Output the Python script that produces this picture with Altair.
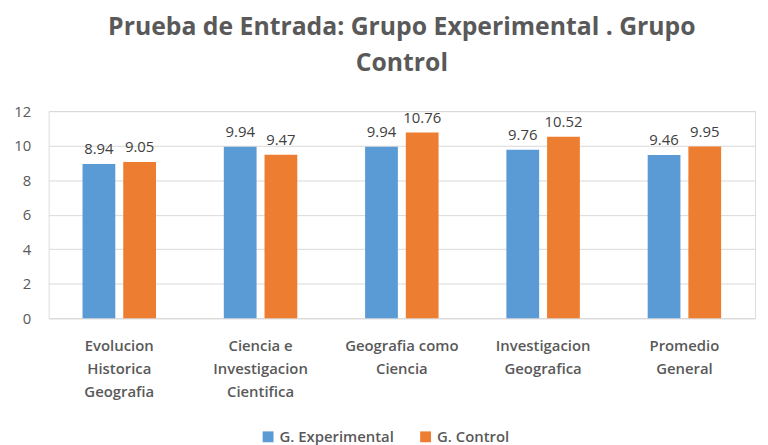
import altair as alt
import pandas as pd

categories = ["Evolucion|Historica|Geografia", "Ciencia e|Investigacion|Cientifica",
              "Geografia como|Ciencia", "Investigacion|Geografica", "Promedio|General"]
series = ["G. Experimental", "G. Control"]
experimental = [8.94, 9.94, 9.94, 9.76, 9.46]
control = [9.05, 9.47, 10.76, 10.52, 9.95]
y_ticks = [0, 2, 4, 6, 8, 10, 12]

rows = []
for c, e, k in zip(categories, experimental, control):
    rows.append({"cat": c, "grupo": series[0], "valor": e})
    rows.append({"cat": c, "grupo": series[1], "valor": k})
df = pd.DataFrame(rows)

FONT = "Open Sans"
x = alt.X("cat:N", sort=categories, title=None,
          scale=alt.Scale(paddingInner=0.48, paddingOuter=0.24),
          axis=alt.Axis(labelAngle=0, labelExpr="split(datum.label, '|')",
                        labelFontSize=15, labelColor="#595959", labelFont=FONT,
                        labelFontWeight=600, labelLineHeight=23, labelPadding=21,
                        ticks=False, domainColor="#d9d9d9", labelBaseline="top"))
y = alt.Y("valor:Q", title=None, scale=alt.Scale(domain=[0, 12], nice=False),
          axis=alt.Axis(values=y_ticks, tickCount=7, labelFontSize=15, labelColor="#595959",
                        labelFont=FONT, ticks=False, domain=False, labelPadding=18,
                        labelOverlap=False, gridColor="#d9d9d9"))
xo = alt.XOffset("grupo:N", sort=series,
                 scale=alt.Scale(paddingInner=0.195, paddingOuter=0))
color = alt.Color("grupo:N", sort=series,
                  scale=alt.Scale(domain=series, range=["#5B9BD5", "#ED7D31"]),
                  legend=alt.Legend(title=None, orient="none", direction="horizontal",
                                    legendX=214, legendY=321,
                                    symbolType="square", symbolSize=120,
                                    labelFontSize=15, labelFont=FONT, labelFontWeight=600,
                                    labelColor="#595959", columnPadding=24))

base = alt.Chart(df).encode(x=x, xOffset=xo, y=y)
bars = base.mark_bar().encode(color=color)
text = base.mark_text(dy=-15, fontSize=15, font=FONT, color="#404040").encode(
    text=alt.Text("valor:Q", format=".2f"))

chart = (bars + text).properties(
    width=713, height=209,
    title=alt.TitleParams(["Prueba de Entrada: Grupo Experimental . Grupo", "Control"],
                          fontSize=25, font=FONT, fontWeight="bold", color="#595959",
                          lineHeight=37, offset=28, anchor="middle"),
).configure_view(stroke=None).configure(background="white")

chart.save("out.html", embed_options={"renderer": "svg", "actions": False})
